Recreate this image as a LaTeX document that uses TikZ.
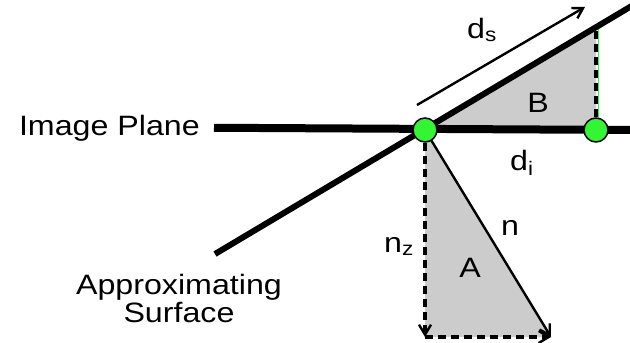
\documentclass[tikz,border=0pt]{standalone}
\usepackage{fontspec}
\setmainfont[FakeStretch=1.15]{Liberation Sans}
\usetikzlibrary{arrows.meta,calc}
\definecolor{dotgreen}{HTML}{33F533}
\definecolor{trigray}{HTML}{CCCCCC}
\tikzset{
    joint/.style={circle,draw=black,line width=1.5pt,fill=dotgreen,minimum size=24pt,inner sep=0pt},
    plane/.style={draw,line width=8pt},
    surf/.style={draw,line width=6pt},
    vec/.style={draw,-{Straight Barb[length=10pt,width=12pt,line width=2.4pt]},line width=2.4pt},
    proj/.style={vec,dash pattern=on 8pt off 5pt,line width=3.5pt},
    lbl/.style={font=\fontsize{28}{28}\selectfont,inner sep=0pt},
}

\begin{document}
\begin{tikzpicture}[x=1pt,y=-1pt]
    \useasboundingbox (0,0) rectangle (630,343);
    % corners of the two triangles
    \coordinate (o) at (425,130);
    \coordinate (p) at (596,130);
    \coordinate (top) at (596,29);
    \coordinate (zb) at (425,337);
    \coordinate (nb) at (551,337);
    % ends of the lines
    \coordinate (surfA) at (215,254);
    \coordinate (surfB) at (640,1);
    \coordinate (planeR) at (634,130);
    \coordinate (ds0) at (417,105);
    \coordinate (ds1) at (585,7);

    \fill[trigray] (o) -- (p) -- (top) -- cycle;
    \fill[trigray] (o) -- (zb) -- (nb) -- cycle;

    \draw[dotgreen,line width=0.8pt] ([xshift=2pt]p) -- ([xshift=2pt]top);
    \draw[proj,-] (p) -- (top);
    \draw[proj] (o) -- (zb);
    \draw[proj] (zb) -- (nb);
    \draw[vec] (o) -- (nb);
    \draw[vec] (ds0) -- (ds1);

    \draw[surf] (surfA) -- (surfB);
    \node[lbl,anchor=base east] (imgplane) at (200,135) {Image Plane};
    \draw[plane] ([xshift=14pt]imgplane.east) -- (planeR);

    \node[joint] (dotl) at (o) {};
    \node[joint] (dotr) at (p) {};

    \node[lbl,anchor=base] (labB) at (538,112) {B};
    \node[lbl,anchor=base] (labA) at (470,277) {A};
    \node[lbl,anchor=base] (labn) at (510,235) {n};
    \node[lbl,anchor=base west] (labnz) at (384,252) {n\textsubscript{z}};
    \node[lbl,anchor=base west] (labdi) at (510,170) {d\textsubscript{i}};
    \node[lbl,anchor=base west] (labds) at (467,38) {d\textsubscript{s}};
    \node[lbl,anchor=base,align=center] (surface) at (179,322) {Approximating\\Surface};
\end{tikzpicture}
\end{document}
